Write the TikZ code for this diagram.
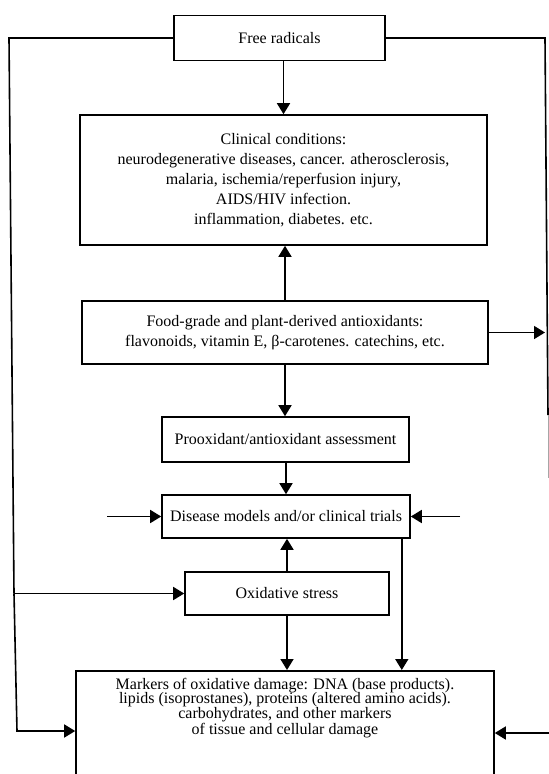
\documentclass[tikz,border=0pt]{standalone}
\usepackage{fontspec}
\setmainfont{Liberation Serif}
\usetikzlibrary{arrows.meta}

\tikzset{
  box/.style={draw=black, line width=1.6pt, rectangle, inner sep=0pt, align=center},
  arr/.style={draw=black, line width=1.6pt, -{Triangle[length=11pt,width=13pt]}},
  link/.style={draw=black, line width=1.6pt},
}

\begin{document}
\begin{tikzpicture}[x=1pt,y=1pt,font=\fontsize{16}{20}\selectfont]
\useasboundingbox (0,0) rectangle (549,-774);
\clip (0,0) rectangle (549,-774);
\node (radicals) [box, minimum width=211, minimum height=45] at (279.5,-38) {Free radicals};
\node (clinical) [box, minimum width=407, minimum height=130] at (283.5,-180) {Clinical conditions:\\neurodegenerative diseases, cancer. atherosclerosis,\\malaria, ischemia/reperfusion injury,\\AIDS/HIV infection.\\inflammation, diabetes. etc.};
\node (food) [box, minimum width=406, minimum height=63] at (285,-332.5) {Food-grade and plant-derived antioxidants:\\flavonoids, vitamin E, β-carotenes. catechins, etc.};
\node (assess) [box, minimum width=247, minimum height=45] at (285.5,-439.5) {Prooxidant/antioxidant assessment};
\node (models) [box, minimum width=248, minimum height=43] at (286,-516.5) {Disease models and/or clinical trials};
\node (stress) [box, minimum width=204, minimum height=43] at (287,-593.5) {Oxidative stress};
\node (markers) [box, anchor=north, minimum width=418, inner ysep=7pt, font=\fontsize{16}{14.7}\selectfont] at (285,-670) {Markers of oxidative damage: DNA (base products).\\lipids (isoprostanes), proteins (altered amino acids).\\carbohydrates, and other markers\\of tissue and cellular damage\rule[-70pt]{0pt}{0pt}};
\coordinate (lt) at (9,-38);
\coordinate (lm) at (14,-593.5);
\coordinate (lb) at (17,-731);
\coordinate (rt) at (545,-38);
\coordinate (re) at (548,-415);
\coordinate (rfade) at (548,-478);
\coordinate (mleft) at (107,-516.5);
\coordinate (mright) at (460,-516.5);
\coordinate (mkr) at (549,-733);
\draw [arr] (clinical.north |- radicals.south) -- (clinical.north);
\draw [arr] (food.north) -- (food.north |- clinical.south);
\draw [arr] (food.south) -- (food.south |- assess.north);
\draw [arr] (assess.south -| models.north) -- (models.north);
\draw [arr] (stress.north) -- (stress.north |- models.south);
\draw [arr] (stress.south) -- (stress.south |- markers.north);
\draw [arr] ([xshift=-9pt]models.south east) -- ([xshift=-9pt]models.south east |- markers.north);
\draw [arr] (mleft) -- (models.west);
\draw [arr] (mright) -- (models.east);
\draw [link] (radicals.west) -- (lt) -- (lm);
\draw [arr] (lm) -- (stress.west);
\draw [arr] (lm) -- (lb) -- (lb -| markers.west);
\draw [link] (radicals.east) -- (rt) -- (re);
\draw [black!35, line width=1pt] (re) -- (rfade);
\draw [arr] (food.east) -- (food.east -| rt);
\draw [arr] (mkr) -- (mkr -| markers.east);
\end{tikzpicture}
\end{document}
